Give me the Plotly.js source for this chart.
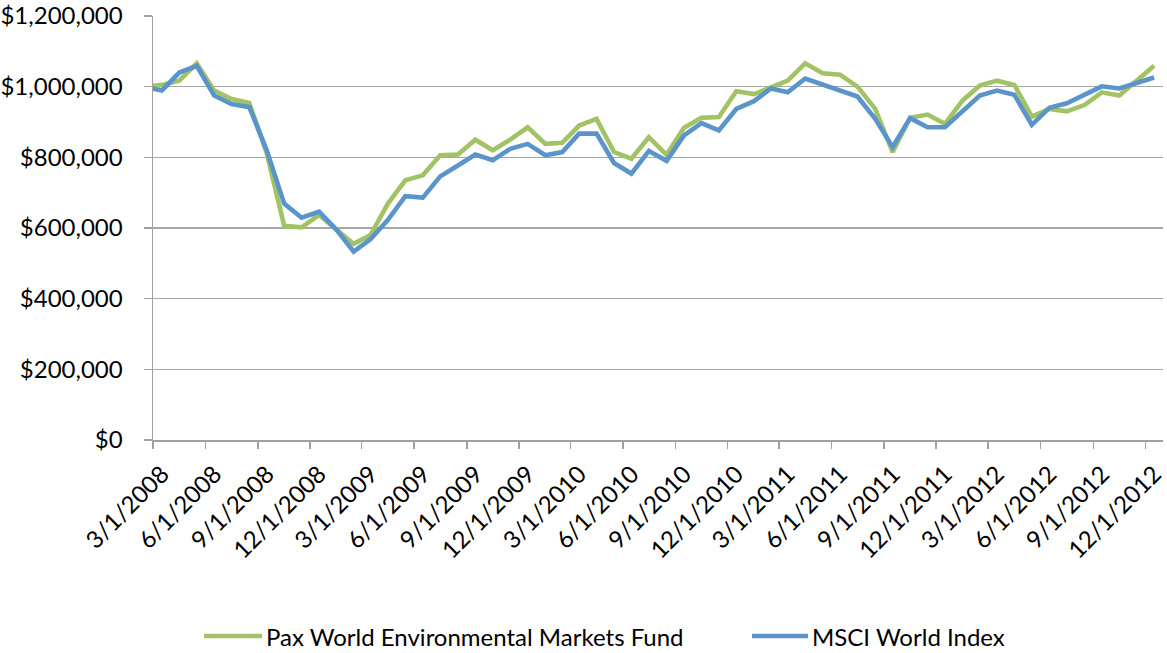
<!DOCTYPE html>
<html>
<head>
<meta charset="utf-8">
<script src="https://cdn.plot.ly/plotly-3.0.1.min.js"></script>
<style>
  html, body { margin: 0; padding: 0; background: #ffffff; }
  #chart { width: 1167px; height: 653px; }
</style>
</head>
<body>
<div id="chart"></div>
<script>
// Months (each point plotted at the middle of its month); first entry is the starting value
const months = [
  "2008-02",
  "2008-03","2008-04","2008-05","2008-06","2008-07","2008-08","2008-09","2008-10","2008-11","2008-12",
  "2009-01","2009-02","2009-03","2009-04","2009-05","2009-06","2009-07","2009-08","2009-09","2009-10","2009-11","2009-12",
  "2010-01","2010-02","2010-03","2010-04","2010-05","2010-06","2010-07","2010-08","2010-09","2010-10","2010-11","2010-12",
  "2011-01","2011-02","2011-03","2011-04","2011-05","2011-06","2011-07","2011-08","2011-09","2011-10","2011-11","2011-12",
  "2012-01","2012-02","2012-03","2012-04","2012-05","2012-06","2012-07","2012-08","2012-09","2012-10","2012-11","2012-12"
];

const paxFund = [
  1000000,
  1005000,1017000,1066000,989000,965000,954000,812000,606000,602000,637000,
  594000,555000,580000,669000,735000,749000,806000,808000,850000,820000,850000,885000,
  838000,841000,890000,909000,815000,796000,857000,807000,884000,912000,914000,987000,
  979000,998000,1017000,1066000,1038000,1034000,1000000,937000,815000,912000,921000,895000,
  961000,1003000,1017000,1005000,915000,937000,930000,948000,984000,975000,1017000,1059000
];

const msciWorld = [
  1000000,
  989000,1040000,1059000,975000,951000,942000,820000,669000,629000,646000,
  594000,533000,568000,623000,690000,686000,746000,777000,808000,792000,824000,838000,
  806000,815000,867000,867000,784000,754000,818000,790000,862000,897000,876000,937000,
  959000,995000,984000,1023000,1005000,989000,972000,909000,829000,911000,885000,885000,
  930000,975000,989000,977000,892000,940000,953000,977000,1001000,995000,1009000,1026000
];

const tickDates = [
  "2008-03-01","2008-06-01","2008-09-01","2008-12-01",
  "2009-03-01","2009-06-01","2009-09-01","2009-12-01",
  "2010-03-01","2010-06-01","2010-09-01","2010-12-01",
  "2011-03-01","2011-06-01","2011-09-01","2011-12-01",
  "2012-03-01","2012-06-01","2012-09-01","2012-12-01"
];
const tickLabels = [
  "3/1/2008","6/1/2008","9/1/2008","12/1/2008",
  "3/1/2009","6/1/2009","9/1/2009","12/1/2009",
  "3/1/2010","6/1/2010","9/1/2010","12/1/2010",
  "3/1/2011","6/1/2011","9/1/2011","12/1/2011",
  "3/1/2012","6/1/2012","9/1/2012","12/1/2012"
];

const seriesNames = ["Pax World Environmental Markets Fund", "MSCI World Index"];
const seriesColors = ["#A1C365", "#5B93CB"];

const FONT = "Lato, 'Open Sans', sans-serif";
const FS = 24;

// plot-area geometry (pixels) used to place the hand-drawn legend
const W = 1167, H = 653;
const M = { l: 153, r: 4, t: 16, b: 213 };
const plotW = W - M.l - M.r, plotH = H - M.t - M.b;
const px2x = px => (px - M.l) / plotW;
const py2y = py => (H - M.b - py) / plotH;

const legendY = py2y(636);
const legendItems = [
  { x0: 204, x1: 262, tx: 264 },
  { x0: 752, x1: 808, tx: 810 }
];

const traces = seriesNames.map((name, i) => ({
  x: months,
  y: i === 0 ? paxFund : msciWorld,
  name: name,
  type: "scatter",
  mode: "lines",
  xperiod: "M1",
  xperiodalignment: "middle",
  line: { color: seriesColors[i], width: 4.6, shape: "linear" },
  showlegend: false,
  hoverinfo: "x+y"
}));

const shapes = legendItems.map((it, i) => ({
  type: "line", xref: "paper", yref: "paper",
  x0: px2x(it.x0), x1: px2x(it.x1), y0: legendY, y1: legendY,
  line: { color: seriesColors[i], width: 4.6 }
}));

const annotations = legendItems.map((it, i) => ({
  xref: "paper", yref: "paper",
  x: px2x(it.tx), y: legendY,
  xanchor: "left", yanchor: "middle",
  text: seriesNames[i],
  showarrow: false,
  font: { family: FONT, size: FS, color: "#000000" }
}));

const layout = {
  width: W,
  height: H,
  margin: { l: M.l, r: M.r, t: M.t, b: M.b, autoexpand: false },
  paper_bgcolor: "#ffffff",
  plot_bgcolor: "#ffffff",
  font: { family: FONT, size: FS, color: "#000000" },
  showlegend: false,
  shapes: shapes,
  annotations: annotations,
  xaxis: {
    type: "date",
    range: ["2008-03-01", "2013-01-01"],
    tickmode: "array",
    tickvals: tickDates,
    ticktext: tickLabels,
    tickangle: -45,
    ticks: "outside",
    ticklen: 7,
    tickwidth: 1.5,
    tickcolor: "#A0A0A0",
    ticklabelshift: 9,
    ticklabelstandoff: 2,
    showline: true,
    linecolor: "#A0A0A0",
    linewidth: 1.5,
    showgrid: false,
    zeroline: false,
    automargin: false,
    tickfont: { family: FONT, size: FS, color: "#000000" },
    fixedrange: true
  },
  yaxis: {
    range: [0, 1200000],
    tickmode: "linear",
    tick0: 0,
    dtick: 200000,
    tickprefix: "$",
    tickformat: ",.0f",
    ticks: "outside",
    ticklen: 8,
    tickwidth: 1.5,
    tickcolor: "#A0A0A0",
    ticklabelstandoff: 16,
    showline: true,
    linecolor: "#A0A0A0",
    linewidth: 1.5,
    showgrid: true,
    gridcolor: "#A6A6A6",
    gridwidth: 1.4,
    zeroline: false,
    automargin: false,
    tickfont: { family: FONT, size: FS, color: "#000000" },
    fixedrange: true
  }
};

Plotly.newPlot("chart", traces, layout, { displayModeBar: false, staticPlot: true });
</script>
</body>
</html>
